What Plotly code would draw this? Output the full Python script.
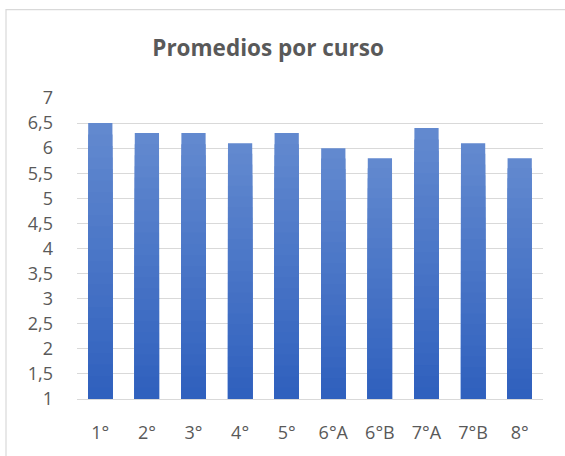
import plotly.graph_objects as go

cursos = ["1°", "2°", "3°", "4°", "5°", "6°A", "6°B", "7°A", "7°B", "8°"]
promedios = [6.5, 6.3, 6.3, 6.1, 6.3, 6.0, 5.8, 6.4, 6.1, 5.8]
y_ticks = [1, 1.5, 2, 2.5, 3, 3.5, 4, 4.5, 5, 5.5, 6, 6.5, 7]
y_labels = ["1", "1,5", "2", "2,5", "3", "3,5", "4", "4,5", "5", "5,5", "6", "6,5", "7"]

base = 1
top_rgb = (98, 137, 207)
bot_rgb = (46, 95, 189)
steps = 24

fig = go.Figure()

# gradient: stack of overlaid bars, light (full height) first, darker shorter ones on top
for k in range(steps, 0, -1):
    f = k / steps
    c = tuple(round(b + (t - b) * f) for t, b in zip(top_rgb, bot_rgb))
    fig.add_trace(go.Bar(
        x=cursos,
        y=[(v - base) * f for v in promedios],
        base=base,
        marker=dict(color="rgb(%d,%d,%d)" % c, line=dict(width=0)),
        hoverinfo="skip" if k < steps else None,
        showlegend=False,
    ))

fig.update_layout(
    width=565, height=456,
    barmode="overlay",
    bargap=0.48,
    separators=",.",
    paper_bgcolor="white",
    plot_bgcolor="white",
    margin=dict(l=77, r=22, t=98, b=55),
    font=dict(family="Open Sans, Noto Sans, sans-serif", color="#595959", size=18),
    title=dict(
        text="<b>Promedios por curso</b>",
        x=0.4745, xanchor="center", y=0.895, yanchor="middle",
        font=dict(size=22.5, color="#595959"),
    ),
    xaxis=dict(
        type="category",
        range=[-0.5, len(cursos) - 0.5],
        showgrid=False,
        showline=True, linecolor="#d9d9d9", linewidth=1,
        ticks="", ticklabelstandoff=17,
        tickfont=dict(size=18, color="#595959"),
    ),
    yaxis=dict(
        range=[1, 7],
        tickvals=y_ticks, ticktext=y_labels,
        showgrid=True, gridcolor="#d9d9d9", gridwidth=1,
        zeroline=False, showline=False,
        ticks="", ticklabelstandoff=23,
        tickfont=dict(size=18, color="#595959"),
    ),
    shapes=[dict(
        type="rect", xref="paper", yref="paper",
        x0=(6 - 77) / 466, x1=(600 - 77) / 466,
        y0=(401 - 500) / 303, y1=(401 - 9) / 303,
        line=dict(color="#d9d9d9", width=1.2), layer="below",
    )],
)

fig.write_html(
    "out.html",
    config={"displayModeBar": False},
    post_script="document.body.style.margin='0';document.body.style.overflow='hidden';",
)
